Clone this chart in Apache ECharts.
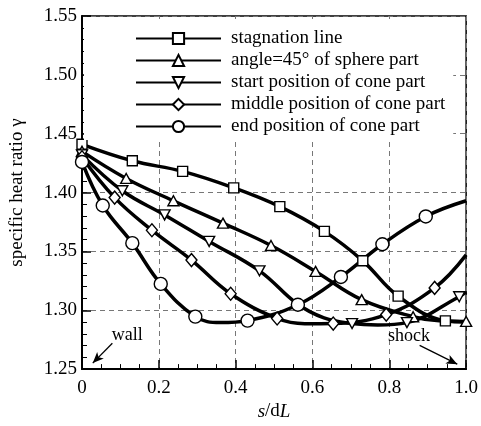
<!DOCTYPE html>
<html><head><meta charset="utf-8">
<script src="https://cdn.jsdelivr.net/npm/echarts@6/dist/echarts.min.js"></script>
<style>html,body{margin:0;padding:0;background:#fff}#c{width:481px;height:426px}</style>
</head><body><div id="c"></div>
<script>
// ---- data ----
const seriesNames = ['stagnation line', 'angle=45\u00b0 of sphere part', 'start position of cone part', 'middle position of cone part', 'end position of cone part'];
const xTickLabels = ['0', '0.2', '0.4', '0.6', '0.8', '1.0'];
const yTickLabels = ['1.25', '1.30', '1.35', '1.40', '1.45', '1.50', '1.55'];

// marker points (drawn with symbols)
const stagMarks = [[0,1.441],[0.131,1.427],[0.262,1.418],[0.395,1.404],[0.515,1.388],[0.631,1.367],[0.731,1.342],[0.823,1.312],[0.946,1.291]];
const angleMarks = [[0,1.435],[0.115,1.412],[0.238,1.393],[0.367,1.374],[0.492,1.355],[0.608,1.333],[0.728,1.309],[0.862,1.2945],[1.0,1.2905]];
const startMarks = [[0,1.432],[0.105,1.4015],[0.215,1.381],[0.331,1.3585],[0.462,1.3335],[0.703,1.2887],[0.846,1.2895],[0.982,1.3115]];
const midMarks = [[0,1.430],[0.085,1.3957],[0.182,1.368],[0.285,1.3426],[0.387,1.314],[0.508,1.293],[0.654,1.2887],[0.792,1.2963],[0.918,1.319]];
const endMarks = [[0,1.426],[0.054,1.389],[0.131,1.357],[0.205,1.3224],[0.295,1.2946],[0.431,1.2912],[0.562,1.3047],[0.674,1.3283],[0.782,1.3561],[0.895,1.3797]];

// additional curve points (no symbol)
const stagCurve = [[1.0,1.290]];
const angleCurve = [[0.93,1.291]];
const startCurve = [[0.56,1.3055],[0.63,1.2935],[0.77,1.2875],[1.0,1.3155]];
const midCurve = [[0.58,1.2885],[1.0,1.347]];
const endCurve = [[0.36,1.2895],[1.0,1.393]];

// annotations (data coordinates)
const annoTexts = [['wall', 0.118, 1.2786], ['shock', 0.851, 1.2778]];
const annoArrows = [[0.079, 1.2719, 0.028, 1.2551], [0.879, 1.2702, 0.977, 1.2542]];

// ---- build ----
const FONT = '"Liberation Serif", "Times New Roman", serif';
const marksList = [stagMarks, angleMarks, startMarks, midMarks, endMarks];
const curveList = [stagCurve, angleCurve, startCurve, midCurve, endCurve];
const symbols = ['rect', 'triangle', 'triangle', 'diamond', 'circle'];
const rotates = [0, 0, 180, 0, 0];
const sizes = [[10,10], [11,10], [11,10], [11,13], [13,13]];

function build(marks, curve) {
  const pts = marks.map(p => ({ value: p.slice(), mark: true }))
    .concat(curve.map(p => ({ value: p.slice(), symbol: 'none' })));
  pts.sort((a, b) => a.value[0] - b.value[0]);
  return pts.map(p => p.mark ? { value: p.value } : { value: p.value, symbol: 'none' });
}

const series = seriesNames.map((name, i) => ({
  name: name,
  type: 'line',
  smooth: 0.4,
  showAllSymbol: true,
  symbol: symbols[i],
  symbolRotate: rotates[i],
  symbolSize: sizes[i],
  itemStyle: { color: '#fff', borderColor: '#000', borderWidth: 1.4 },
  lineStyle: { color: '#000', width: 3.5 },
  emphasis: { disabled: true },
  data: build(marksList[i], curveList[i]),
  z: 3
}));

series.push({
  type: 'line',
  data: [],
  silent: true,
  markLine: {
    silent: true,
    symbol: ['none', 'arrow'],
    symbolSize: [7, 11],
    lineStyle: { color: '#000', width: 1.3, type: 'solid' },
    label: { show: false },
    emphasis: { disabled: true },
    data: annoArrows.map(a => [{ coord: [a[0], a[1]] }, { coord: [a[2], a[3]] }])
  },
  markPoint: {
    silent: true,
    symbol: 'circle',
    symbolSize: 1,
    itemStyle: { color: 'rgba(0,0,0,0)' },
    label: { show: true, position: 'inside', color: '#000', fontFamily: FONT, fontSize: 18, formatter: p => p.name },
    data: annoTexts.map(t => ({ name: t[0], coord: [t[1], t[2]] }))
  }
});

const chart = echarts.init(document.getElementById('c'), null, { renderer: 'canvas' });
chart.setOption({
  animation: false,
  backgroundColor: '#fff',
  grid: { left: 82, right: 9, top: 16, bottom: 54, show: true, borderColor: '#000', borderWidth: 1.5, backgroundColor: 'transparent' },
  legend: {
    orient: 'vertical',
    left: 84, top: 19,
    padding: [10, 8, 4, 51],
    backgroundColor: '#fff',
    itemWidth: 85, itemHeight: 14, itemGap: 3,
    textStyle: { color: '#000', fontFamily: FONT, fontSize: 19, padding: [0, 0, 0, 5] },
    data: seriesNames,
    selectedMode: false
  },
  xAxis: {
    type: 'value', min: 0, max: 1, interval: 0.2,
    name: '{i|s}/d{i|L}', nameLocation: 'middle', nameGap: 30,
    nameTextStyle: { color: '#000', fontFamily: FONT, fontSize: 19, rich: { i: { fontStyle: 'italic', fontFamily: FONT, fontSize: 19, color: '#000' } } },
    axisLine: { lineStyle: { color: '#000', width: 2 } },
    axisTick: { inside: true, length: 9, lineStyle: { color: '#000', width: 1.5 } },
    minorTick: { show: true, splitNumber: 4, length: 5, lineStyle: { color: '#000', width: 1 } },
    axisLabel: { color: '#000', fontFamily: FONT, fontSize: 19, margin: 9, formatter: (v) => xTickLabels[Math.round(v / 0.2)] },
    splitLine: { show: true, lineStyle: { color: '#777', type: [5, 4], width: 1 } }
  },
  yAxis: {
    type: 'value', min: 1.25, max: 1.55, interval: 0.05,
    name: 'specific heat ratio \u03b3', nameLocation: 'middle', nameGap: 55,
    nameTextStyle: { color: '#000', fontFamily: FONT, fontSize: 19 },
    axisLine: { lineStyle: { color: '#000', width: 2 } },
    axisTick: { inside: true, length: 9, lineStyle: { color: '#000', width: 1.5 } },
    minorTick: { show: true, splitNumber: 5, length: 5, lineStyle: { color: '#000', width: 1 } },
    axisLabel: { color: '#000', fontFamily: FONT, fontSize: 19, margin: 5, formatter: (v) => yTickLabels[Math.round((v - 1.25) / 0.05)] },
    splitLine: { show: true, lineStyle: { color: '#777', type: [5, 4], width: 1 } }
  },
  series: series
});
</script></body></html>
